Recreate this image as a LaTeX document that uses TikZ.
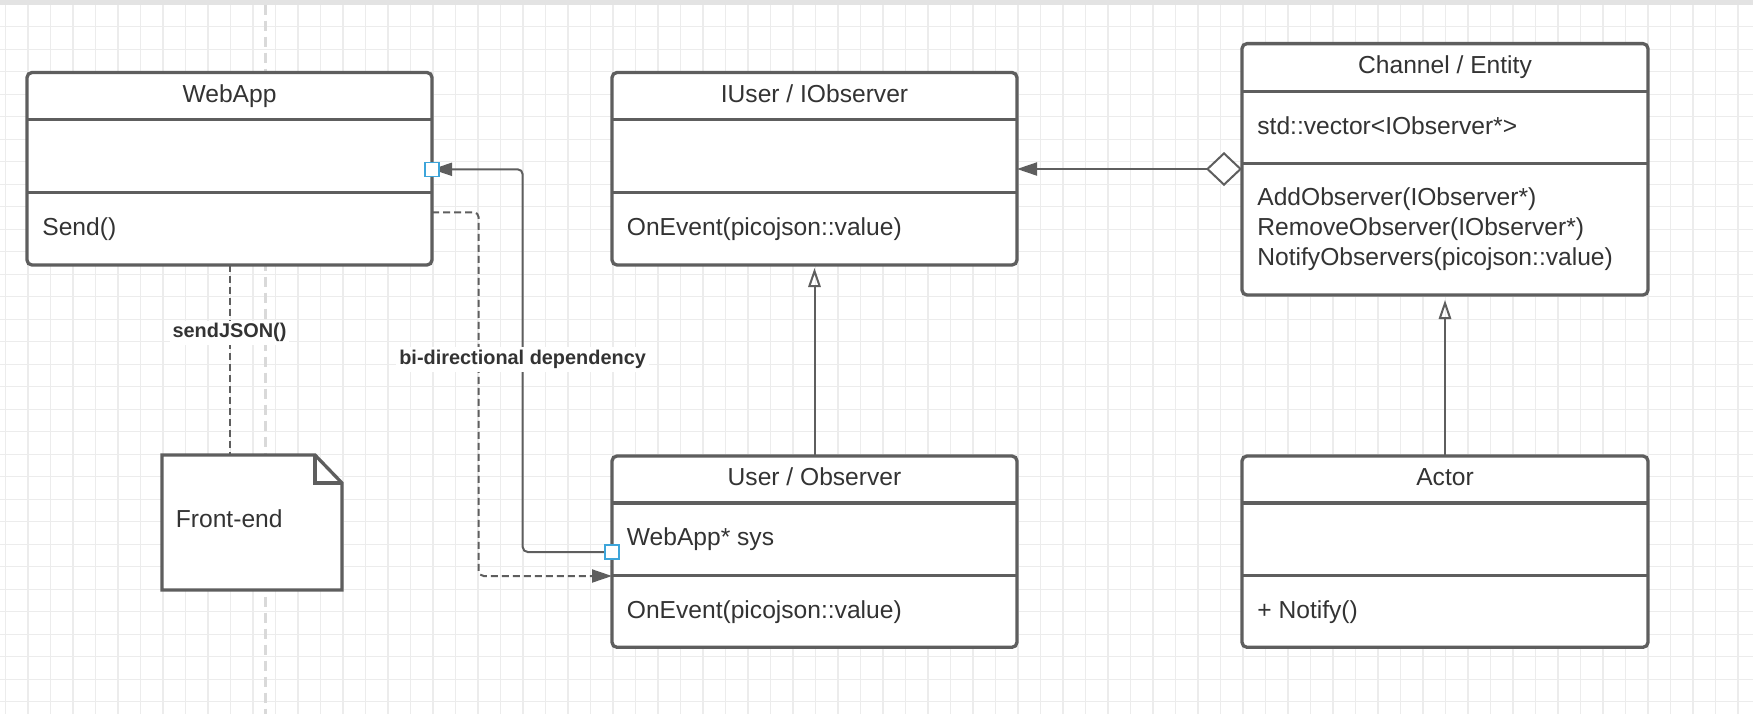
\documentclass[tikz,border=0pt]{standalone}
\usepackage{fontspec}
\setmainfont{Liberation Sans}
\usetikzlibrary{arrows.meta,fit}
\definecolor{linegray}{HTML}{5E5E5E}
\definecolor{textgray}{HTML}{333333}
\definecolor{gridgray}{HTML}{ECECEC}
\definecolor{pagegray}{HTML}{D9D9D9}
\definecolor{portblue}{HTML}{3DA5DA}
\tikzset{%
  class box/.style={draw=linegray, line width=1.65pt, rounded corners=2.5pt, fill=white, inner sep=0pt, outer sep=0pt},
  class rule/.style={draw=linegray, line width=1.65pt},
  class title/.style={anchor=base, inner sep=0pt, text=textgray, font=\fontsize{12.3}{15}\selectfont},
  class text/.style={anchor=base west, inner sep=0pt, text=textgray, font=\fontsize{12.3}{15}\selectfont},
  link/.style={draw=linegray, line width=1pt},
  dep link/.style={link, dash pattern=on 3.5pt off 2pt},
  link label/.style={anchor=base, fill=white, inner sep=1.5pt, text=textgray, font=\bfseries\fontsize{9.95}{12}\selectfont},
  port/.style={draw=portblue, fill=white, line width=0.8pt, minimum size=7pt, inner sep=0pt},
  filled tip/.style={-{Triangle[length=10pt, width=6.5pt]}},
  open tip/.style={-{Triangle[open, length=9.5pt, width=6.2pt]}},
}
% class box: name, left, top, right, bottom, first rule, second rule
\newcommand{\ClassBox}[7]{%
  \node[class box, fit={(#2,#3) (#4,#5)}] (#1) {};
  \draw[class rule] (#2,#6) -- (#4,#6);
  \draw[class rule] (#2,#7) -- (#4,#7);
}
\begin{document}
\begin{tikzpicture}[x=0.5pt,y=-0.5pt]
  % canvas with grid
  \useasboundingbox[fill=white] (0,0) rectangle (1753,714);
  \foreach \i in {0,...,77} \draw[gridgray, line width=0.55pt] ({5.5+22.5*\i},0) -- ++(0,714);
  \foreach \j in {0,...,31} \draw[gridgray, line width=0.55pt] (0,{4.2+22.5*\j}) -- ++(1753,0);
  \fill[gray!22] (0,0) rectangle (1753,4.5);
  \draw[pagegray, line width=1.25pt, dash pattern=on 5pt off 3pt] (265.7,4.5) -- (265.7,714);

  % classes
  \ClassBox{webapp}{27}{72.5}{432}{265}{119.5}{192.3}
  \ClassBox{iuser}{612}{72.5}{1017}{265}{119.5}{192.3}
  \ClassBox{channel}{1242}{43.6}{1648}{295}{91.7}{163.2}
  \ClassBox{userobs}{612}{456}{1017}{647.3}{503}{575.8}
  \ClassBox{actor}{1242}{456}{1648}{647.3}{503}{575.8}

  \node[class title] (webapp-name) at (229.5,102.5) {WebApp};
  \node[class text] (webapp-send) at (42,235) {Send()};
  \node[class title] (iuser-name) at (814.5,102.5) {IUser / IObserver};
  \node[class text] (iuser-event) at (626.5,235) {OnEvent(picojson::value)};
  \node[class title] (channel-name) at (1445,73) {Channel / Entity};
  \node[class text] (channel-list) at (1257,134.2) {std::vector<IObserver*>};
  \node[class text] (channel-add) at (1257,205.9) {AddObserver(IObserver*)};
  \node[class text] (channel-remove) at (1257,235.9) {RemoveObserver(IObserver*)};
  \node[class text] (channel-notify) at (1257,265.9) {NotifyObservers(picojson::value)};
  \node[class title] (userobs-name) at (814.5,485.5) {User / Observer};
  \node[class text] (userobs-sys) at (626.5,545.5) {WebApp* sys};
  \node[class text] (userobs-event) at (626.5,618.5) {OnEvent(picojson::value)};
  \node[class title] (actor-name) at (1445,485.5) {Actor};
  \node[class text] (actor-notify) at (1257,618.5) {+ Notify()};

  % note
  \node[inner sep=0pt, outer sep=0pt, fit={(162,455) (342,590)}] (frontend) {};
  \draw[class rule, fill=white] (frontend.north west) -- ([xshift=-13.5pt]frontend.north east)
    -- ([yshift=-14pt]frontend.north east) -- (frontend.south east) -- (frontend.south west) -- cycle;
  \draw[class rule] ([xshift=-13.5pt]frontend.north east) |- ([yshift=-14pt]frontend.north east);
  \node[class text] (frontend-text) at (175.5,527) {Front-end};

  % connectors
  \coordinate (bus) at (522.7,169.3);
  \coordinate (depx) at (478.7,576);
  \draw[dep link] (webapp.south) -- (webapp.south |- frontend.north)
    node[link label, pos=0.384] (sendjson) {sendJSON()};
  \draw[link, {Diamond[open, fill=white, length=18pt, width=17pt]}-{Triangle[length=10pt, width=6.5pt]}]
    (channel.west |- 0,169) -- (iuser.east |- 0,169);
  \draw[link, open tip, shorten >=1.5pt] (userobs.north) -- (iuser.south);
  \draw[link, open tip, shorten >=2.5pt] (actor.north) -- (channel.south);
  \draw[link, filled tip, rounded corners=2.5pt] (userobs.west |- 0,552) -| (bus) -- (webapp.east |- bus);
  \draw[dep link, filled tip, rounded corners=2.5pt] (webapp.east |- 0,212.3) -| (depx) -- (userobs.west |- depx);
  \node[link label] (bidir) at (522.6,364.5) {bi-directional dependency};
  \node[port] (webapp-port) at (webapp.east |- bus) {};
  \node[port] (userobs-port) at (userobs.west |- 0,552) {};
\end{tikzpicture}
\end{document}
